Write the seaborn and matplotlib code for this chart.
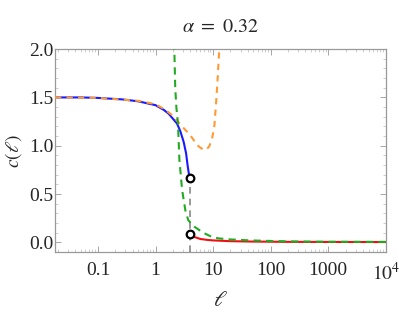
import numpy as np
import pandas as pd
import seaborn as sns
import matplotlib.pyplot as plt
from matplotlib.ticker import LogLocator, MultipleLocator, FixedLocator, FixedFormatter, NullFormatter

# values
ell_blue = [0.018, 0.05, 0.1, 0.26, 0.5, 1.0, 1.4, 1.7, 2.0, 2.36, 2.7, 3.08, 3.4, 3.6, 3.75, 3.9]
c_blue = [1.50, 1.50, 1.495, 1.48, 1.46, 1.42, 1.37, 1.33, 1.28, 1.23, 1.15, 1.04, 0.92, 0.80, 0.73, 0.67]

ell_orange = [0.018, 0.1, 0.5, 1.0, 1.5, 2.0, 2.36, 3.0, 4.0, 5.25, 6.0, 6.8, 7.6, 8.5, 9.5, 10.5, 11.3, 12.0, 12.8, 13.3]
c_orange = [1.50, 1.495, 1.465, 1.43, 1.37, 1.31, 1.26, 1.19, 1.11, 1.01, 0.98, 0.96, 0.96, 0.99, 1.06, 1.2, 1.45, 1.7, 2.0, 2.2]

ell_green = [2.08, 2.12, 2.2, 2.3, 2.45, 2.6, 2.9, 3.3, 3.7, 4.65, 6.7, 10, 13, 20, 44, 200, 1000, 10000]
c_green = [2.2, 2.0, 1.6, 1.4, 1.24, 0.85, 0.54, 0.33, 0.23, 0.165, 0.10, 0.05, 0.04, 0.03, 0.02, 0.01, 0.006, 0.005]

ell_red = [3.9, 4.5, 6, 8, 10, 20, 50, 200, 1000, 10000]
c_red = [0.09, 0.06, 0.035, 0.025, 0.02, 0.012, 0.008, 0.005, 0.004, 0.003]

ell_crit = 3.9
c_jump = [0.67, 0.09]

x_ticks = [0.1, 1, 10, 100, 1000, 10000]
x_labels = ['0.1', '1', '10', '100', '1000', r'$10^4$']

sns.set_style('ticks')
plt.rcParams['font.family'] = ['Liberation Serif', 'DejaVu Serif']
plt.rcParams['mathtext.fontset'] = 'stix'

fig = plt.figure(figsize=(3.99, 3.19), dpi=100)
ax = fig.add_axes([0.138, 0.21, 0.829, 0.636])

blue = pd.DataFrame({'ell': ell_blue, 'c': c_blue})
orange = pd.DataFrame({'ell': ell_orange, 'c': c_orange})
green = pd.DataFrame({'ell': ell_green, 'c': c_green})
red = pd.DataFrame({'ell': ell_red, 'c': c_red})

# gray vertical marker at the jump
ax.plot([ell_crit, ell_crit], [-0.1, c_jump[0]], color='#888888', ls=(0, (4, 3)), lw=1.2, zorder=1)

sns.lineplot(data=red, x='ell', y='c', color='#ee1111', lw=1.5, ax=ax, zorder=2)
sns.lineplot(data=blue, x='ell', y='c', color='#1a1aff', lw=1.5, ax=ax, zorder=2)
sns.lineplot(data=orange, x='ell', y='c', color='#ff9933', lw=1.5, ax=ax, zorder=3)
ax.lines[-1].set_dashes((3, 2.5))
sns.lineplot(data=green, x='ell', y='c', color='#22aa22', lw=1.5, ax=ax, zorder=3)
ax.lines[-1].set_dashes((3.5, 2.5))

ax.scatter([ell_crit] * 2, c_jump, s=30, facecolor='white', edgecolor='black', lw=1.6, zorder=5)

ax.set_xscale('log')
ax.set_xlim(0.018, 10000)
ax.set_ylim(-0.1, 2.0)

ax.xaxis.set_major_locator(FixedLocator(x_ticks))
ax.xaxis.set_major_formatter(FixedFormatter(x_labels))
ax.xaxis.set_minor_locator(LogLocator(base=10, subs=np.arange(2, 10), numticks=20))
ax.xaxis.set_minor_formatter(NullFormatter())
ax.yaxis.set_major_locator(MultipleLocator(0.5))
ax.yaxis.set_minor_locator(MultipleLocator(0.1))
ax.yaxis.set_major_formatter(plt.FuncFormatter(lambda v, p: f'{v:.1f}'))

ax.tick_params(which='major', direction='in', length=4, width=0.6, color='#999999', labelsize=14)
ax.tick_params(axis='x', pad=7)
ax.tick_params(axis='y', pad=1)
ax.tick_params(which='minor', direction='in', length=2, width=0.5, color='#bbbbbb')
ax.tick_params(top=True, right=True, which='both')
for s in ax.spines.values():
    s.set_color('#999999')
    s.set_linewidth(0.9)

ax.set_xlabel(r'$\ell$', fontsize=16, labelpad=6)
ax.set_ylabel(r'$c(\ell)$', fontsize=14, labelpad=4)
ax.set_title(r'$\alpha\ =\ 0.32$', fontsize=14.5, pad=12)

fig.savefig('out.png', dpi=100)
